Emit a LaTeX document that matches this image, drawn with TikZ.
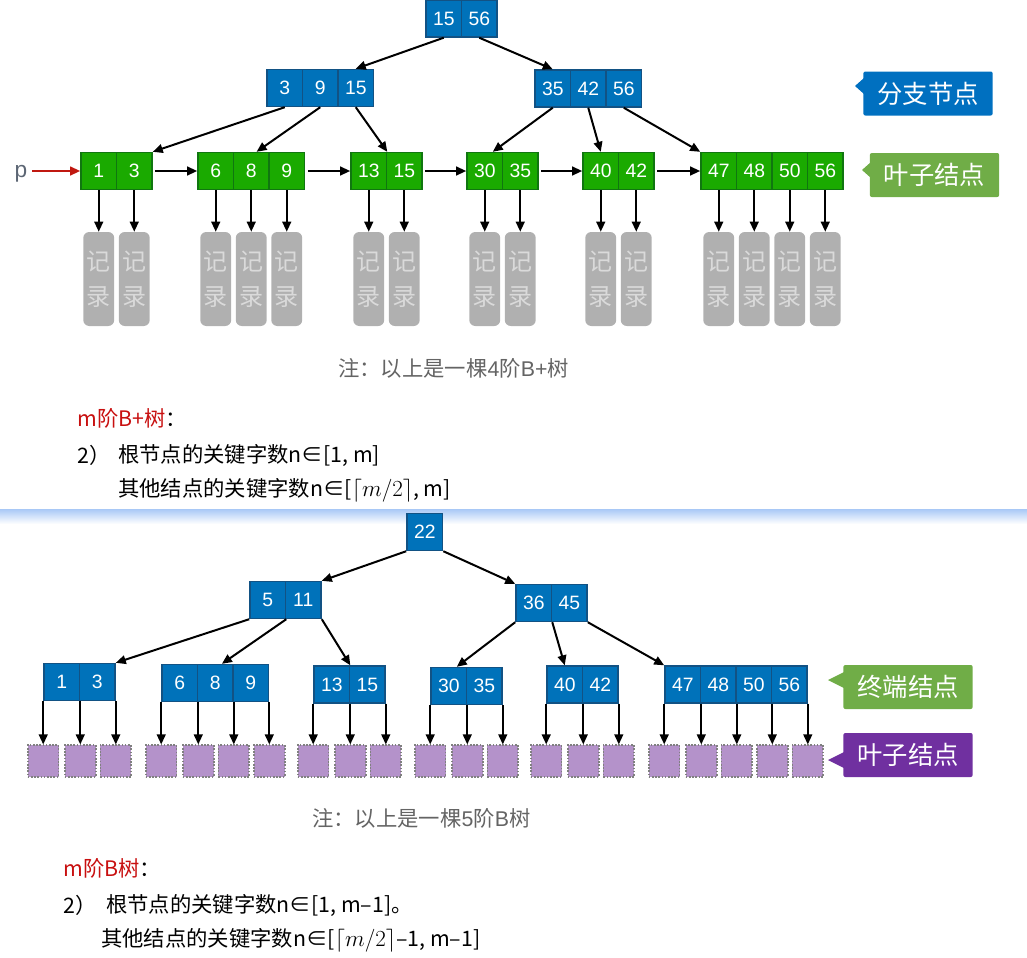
\documentclass[tikz,border=0pt]{standalone}
\usepackage{fontspec}
\setmainfont{Liberation Sans}
\newfontfamily\cjk{Noto Sans CJK SC}
\usepackage{tikz}
\usetikzlibrary{arrows.meta,positioning,calc}

\definecolor{keyblue}{RGB}{0,114,186}
\definecolor{keyblueline}{RGB}{18,82,132}
\definecolor{leafgreen}{RGB}{26,170,0}
\definecolor{leafgreenline}{RGB}{16,118,16}
\definecolor{tagblue}{RGB}{0,112,192}
\definecolor{taggreen}{RGB}{112,173,71}
\definecolor{tagpurple}{RGB}{112,48,160}
\definecolor{recgray}{RGB}{176,176,176}
\definecolor{rectext}{RGB}{218,218,218}
\definecolor{nilpurple}{RGB}{180,146,202}
\definecolor{notegray}{RGB}{100,100,100}
\definecolor{rulered}{RGB}{200,16,16}
\definecolor{pointred}{RGB}{192,24,16}
\definecolor{pgray}{RGB}{92,102,116}
\definecolor{sepblue}{RGB}{168,200,246}

% one row of key cells: style, name, left edge, centre y, keys
\newcommand\keyrow[5]{%
  \foreach \k [count=\i] in {#5}
    \node[#1] (#2\i) at ({#3+35.5*\i-17.75},#4) {\k};}

\begin{document}
\begin{tikzpicture}[x=0.75pt,y=-0.75pt,
  >={Triangle[length=7.5pt,width=6.5pt]},
  link/.style={->,line width=1.5pt},
  bkey/.style={draw=keyblueline,fill=keyblue,line width=1.2pt,minimum width=26.6pt,minimum height=27.6pt,inner sep=0pt,text=white,font=\fontsize{14.5}{14.5}\selectfont},
  gkey/.style={bkey,draw=leafgreenline,fill=leafgreen},
  rec/.style={fill=recgray,rounded corners=4.5pt,minimum width=23.2pt,minimum height=70.5pt,inner sep=0pt,text=rectext,align=center,font=\cjk\fontsize{18}{26}\selectfont},
  nil/.style={draw=gray,fill=nilpurple,dash pattern=on 1.2pt off 1.2pt,line width=1.2pt,minimum width=23.2pt,minimum height=23.6pt,inner sep=0pt},
  tag/.style={rounded corners=1.5pt,text=white,minimum width=97pt,minimum height=33pt,inner sep=0pt,font=\cjk\fontsize{19}{19}\selectfont},
  note/.style={anchor=west,inner sep=0pt,text=notegray,font=\cjk\fontsize{16}{16}\selectfont},
  rule/.style={anchor=west,inner sep=0pt,font=\cjk\fontsize{16}{16}\selectfont}]
\useasboundingbox (0,0) rectangle (1027,957);

% B+ tree
\keyrow{bkey}{r}{426}{18.5}{15,56}
\keyrow{bkey}{ba}{267}{88}{3,9,15}
\keyrow{bkey}{bb}{535}{88.5}{35,42,56}
\keyrow{gkey}{la}{81}{171}{1,3}
\keyrow{gkey}{lb}{198}{171}{6,8,9}
\keyrow{gkey}{lc}{351}{171}{13,15}
\keyrow{gkey}{ld}{467}{171}{30,35}
\keyrow{gkey}{le}{583}{171}{40,42}
\keyrow{gkey}{lf}{701}{171}{47,48,50,56}

\draw[link] (r1.south) -- (ba3.north);
\draw[link] (r2.south) -- (bb1.north);
\draw[link] (ba1.south) -- (la2.north east);
\draw[link] (ba2.south) -- ([xshift=4pt]lb2.north);
\draw[link] (ba3.south) -- (lc1.north east);
\draw[link] (bb1.south) -- ([xshift=6pt]ld1.north);
\draw[link] (bb2.south) -- (le1.north);
\draw[link] (bb3.south) -- (lf1.north west);

\foreach \a/\b in {la2/lb1,lb3/lc1,lc2/ld1,ld2/le1,le2/lf1}
  \draw[link] ([xshift=2pt]\a.east) -- (\b.west);

\node[text=pgray,font=\fontsize{17}{17}\selectfont] (p) at (21,174) {p};
\draw[link,color=pointred] (p.east |- la1.west) -- (la1.west);

% records
\coordinate (recrow) at (0,279);
\foreach \c in {la1,la2,lb1,lb2,lb3,lc1,lc2,ld1,ld2,le1,le2,lf1,lf2,lf3,lf4} {
  \node[rec] (rec\c) at (\c |- recrow) {记\\录};
  \draw[link] (\c.south) -- (rec\c.north);
}

\node[tag,fill=tagblue] (tagbranch) at (928,93.5) {分支节点};
\fill[tagblue] (855,86) -- (864,78) -- (864,94) -- cycle;
\node[tag,fill=taggreen] (tagleafbp) at (934.5,175) {叶子结点};
\fill[taggreen] (862,170) -- (871,162) -- (871,178) -- cycle;

\node[note] (notebp) at (338,368) {注：以上是一棵{\rmfamily 4}阶{\rmfamily B+}树};
\node[rule] (titlebp) at (77,418) {{\color{rulered}m阶B+树}：};
\node[rule] (numbp) at (77,455) {2）};
\node[rule] (rootbp) at (118,455) {根节点的关键字数n∈[1, m]};
\node[rule] (otherbp) at (118,490) {其他结点的关键字数n∈[$\lceil m/2\rceil$, m]};

% separator
\shade[top color=sepblue,bottom color=white] (0,509) rectangle (1027,524);

% B tree
\keyrow{bkey}{t}{407}{532}{22}
\keyrow{bkey}{ma}{250}{600}{5,11}
\keyrow{bkey}{mb}{516}{603}{36,45}
\keyrow{bkey}{ta}{44}{682}{1,3}
\keyrow{bkey}{tb}{162}{683}{6,8,9}
\keyrow{bkey}{tc}{314}{684.5}{13,15}
\keyrow{bkey}{td}{431}{686}{30,35}
\keyrow{bkey}{te}{547}{684.5}{40,42}
\keyrow{bkey}{tf}{665}{684.5}{47,48,50,56}

\draw[link] (t1.south west) -- (ma2.north east);
\draw[link] (t1.south east) -- (mb1.north west);
\draw[link] (ma1.south west) -- (ta2.north east);
\draw[link] (ma1.south east) -- ([xshift=5pt]tb2.north);
\draw[link] (ma2.south east) -- (tc1.north east);
\draw[link] (mb1.south west) -- ([xshift=6pt]td1.north);
\draw[link] (mb1.south east) -- (te1.north);
\draw[link] (mb2.south east) -- (tf1.north west);

% empty leaves
\coordinate (nilrow) at (0,761);
\foreach \nd/\m in {ta/2,tb/3,tc/2,td/2,te/2,tf/4} {
  \node[nil] (\nd-0) at (\nd1.south west |- nilrow) {};
  \draw[link] (\nd1.south west) -- (\nd-0);
  \foreach \i in {1,...,\m} {
    \node[nil] (\nd-\i) at (\nd\i.south east |- nilrow) {};
    \draw[link] (\nd\i.south east) -- (\nd-\i);
  }
}

\node[tag,fill=taggreen] (tagend) at (908,687) {终端结点};
\fill[taggreen] (828,680) -- (844,672) -- (844,688) -- cycle;
\node[tag,fill=tagpurple] (tagleafb) at (908,755) {叶子结点};
\fill[tagpurple] (828,760) -- (844,752) -- (844,768) -- cycle;

\node[note] (noteb) at (312,818) {注：以上是一棵{\rmfamily 5}阶{\rmfamily B}树};
\node[rule] (titleb) at (63,868) {{\color{rulered}m阶B树}：};
\node[rule] (numb) at (63,905) {2）};
\node[rule] (rootb) at (106,905) {根节点的关键字数n∈[1, m–1]。};
\node[rule] (otherb) at (101,940) {其他结点的关键字数n∈[$\lceil m/2\rceil$–1, m–1]};
\end{tikzpicture}
\end{document}
